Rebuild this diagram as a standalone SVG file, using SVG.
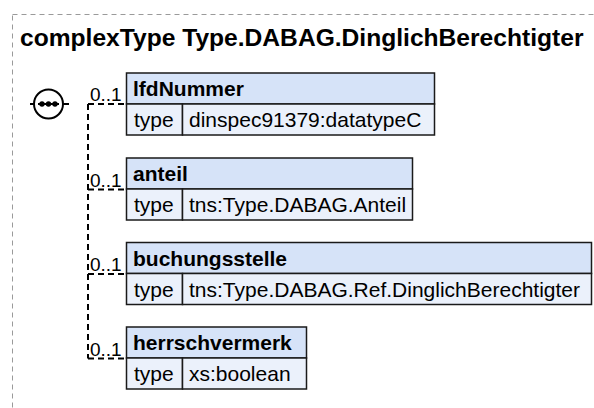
<svg xmlns="http://www.w3.org/2000/svg" width="594" height="408" viewBox="0 0 594 408">
<style>
.frame{fill:none;stroke:#9a9a9a;stroke-width:1;stroke-dasharray:5,4}
.title{font-family:"Liberation Sans",Arial,sans-serif;font-weight:bold;font-size:24.6px;fill:#000}
.hdr{fill:#d6e3f8;stroke:#1a1a1a;stroke-width:1.5}
.row{fill:#ebf1fb;stroke:#1a1a1a;stroke-width:1.5}
.lbl{font-family:"Liberation Sans",Arial,sans-serif;font-weight:bold;font-size:21px;fill:#000}
.txt{font-family:"Liberation Sans",Arial,sans-serif;font-size:21px;fill:#000}
.card{font-family:"Liberation Sans",Arial,sans-serif;font-size:19px;fill:#000}
.con{fill:none;stroke:#000;stroke-width:2;stroke-dasharray:6,4}
</style>
<rect class="frame" x="12.5" y="14.5" width="600" height="420"/>
<text class="title" x="20" y="46">complexType Type.DABAG.DinglichBerechtigter</text>
<g id="sequence">
<line class="con" x1="30" y1="104" x2="34" y2="104"/>
<circle cx="48.5" cy="104" r="14.5" fill="#fff" stroke="#000" stroke-width="2"/>
<line x1="38" y1="104" x2="59" y2="104" stroke="#000" stroke-width="2"/>
<circle cx="42" cy="104" r="2.7" fill="#000"/>
<circle cx="48.5" cy="104" r="2.7" fill="#000"/>
<circle cx="55" cy="104" r="2.7" fill="#000"/>
</g>
<g id="connectors">
<path class="con" d="M63,104 H72"/>
<path class="con" d="M88,104 H126"/>
<path class="con" d="M88,104 V358.5"/>
<path class="con" d="M88,189.5 H126"/>
<path class="con" d="M88,274 H126"/>
<path class="con" d="M88,358.5 H126"/>
<text class="card" x="90" y="101">0..1</text>
<text class="card" x="90" y="186.5">0..1</text>
<text class="card" x="90" y="271">0..1</text>
<text class="card" x="90" y="355.5">0..1</text>
</g>
<g id="lfdNummer">
<rect class="hdr" x="126.5" y="73" width="308" height="31"/>
<rect class="row" x="126.5" y="104" width="56" height="31"/>
<rect class="row" x="182.5" y="104" width="252" height="31"/>
<text class="lbl" x="133" y="96">lfdNummer</text>
<text class="txt" x="134" y="127">type</text>
<text class="txt" x="189" y="127">dinspec91379:datatypeC</text>
</g>
<g id="anteil">
<rect class="hdr" x="126.5" y="158" width="286" height="31"/>
<rect class="row" x="126.5" y="189" width="56" height="31"/>
<rect class="row" x="182.5" y="189" width="230" height="31"/>
<text class="lbl" x="133" y="181">anteil</text>
<text class="txt" x="134" y="212">type</text>
<text class="txt" x="189" y="212">tns:Type.DABAG.Anteil</text>
</g>
<g id="buchungsstelle">
<rect class="hdr" x="126.5" y="242.5" width="465" height="31"/>
<rect class="row" x="126.5" y="273.5" width="56" height="31"/>
<rect class="row" x="182.5" y="273.5" width="409" height="31"/>
<text class="lbl" x="133" y="265.5">buchungsstelle</text>
<text class="txt" x="134" y="296.5">type</text>
<text class="txt" x="189" y="296.5">tns:Type.DABAG.Ref.DinglichBerechtigter</text>
</g>
<g id="herrschvermerk">
<rect class="hdr" x="126.5" y="327" width="180" height="31"/>
<rect class="row" x="126.5" y="358" width="56" height="31"/>
<rect class="row" x="182.5" y="358" width="124" height="31"/>
<text class="lbl" x="133" y="350">herrschvermerk</text>
<text class="txt" x="134" y="381">type</text>
<text class="txt" x="189" y="381">xs:boolean</text>
</g>
</svg>
